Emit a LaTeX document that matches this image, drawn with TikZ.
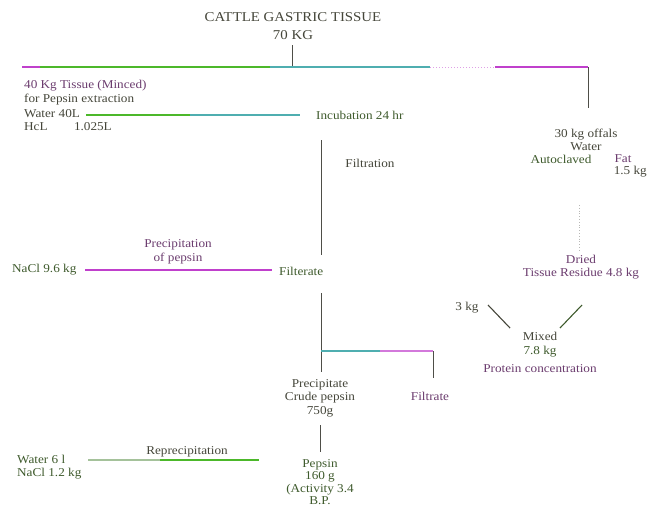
\documentclass[tikz,border=0pt]{standalone}
\usepackage{fontspec}
\setmainfont{Liberation Serif}[FakeStretch=1.1]
\definecolor{txt}{HTML}{45463A}
\definecolor{txtg}{HTML}{3E5A2C}
\definecolor{txtm}{HTML}{6B3C6E}
\definecolor{lgreen}{HTML}{4CB82A}
\definecolor{lteal}{HTML}{4FAEB0}
\definecolor{lmag}{HTML}{C040CC}
\definecolor{lgray}{HTML}{4E4E48}
\tikzset{
  lbl/.style={inner sep=0pt, text=txt, font=\fontsize{12}{13.5}\selectfont},
  lblg/.style={lbl, text=txtg},
  lblm/.style={lbl, text=txtm},
  ttl/.style={inner sep=0pt, text=txt, font=\fontsize{13.5}{15}\selectfont},
  vline/.style={draw=lgray, line width=0.8pt},
  hline/.style={line width=1.6pt},
}
\begin{document}
\begin{tikzpicture}[x=1pt,y=-1pt]
\useasboundingbox (0,0) rectangle (647,506);
% title
\node[ttl] (title) at (293,17) {CATTLE GASTRIC TISSUE};
\node[ttl] (kg70) at (293,35) {70 KG};
\coordinate (t1) at (292,45);
\coordinate (t2) at (292,67);
\draw[vline] (t1) -- (t2);
% top horizontal
\coordinate (h0) at (22,67);
\coordinate (h1) at (40,67);
\coordinate (h2) at (270,67);
\coordinate (h3) at (430,67);
\coordinate (h4) at (495,67);
\coordinate (h5) at (588,67);
\coordinate (h6) at (588,108);
\draw[hline, draw=lmag] (h0) -- (h1);
\draw[hline, draw=lgreen] (h1) -- (h2);
\draw[hline, draw=lteal] (h2) -- (h3);
\draw[line width=1pt, draw=lmag!50, dotted] (h3) -- (h4);
\draw[hline, draw=lmag] (h4) -- (h5);
\draw[vline] (h5) -- (h6);
% left block
\node[lblm, anchor=west] (tissue) at (24,86) {40 Kg Tissue (Minced)};
\node[lbl, anchor=west] (forp) at (24,100) {for Pepsin extraction};
\node[lbl, anchor=west] (water) at (24,114) {Water 40L};
\node[lbl, anchor=west] (hcl) at (24,127) {HcL\hspace{2.2em}1.025L};
\coordinate (w1) at (86,115);
\coordinate (w2) at (190,115);
\coordinate (w3) at (300,115);
\draw[hline, draw=lgreen] (w1) -- (w2);
\draw[hline, draw=lteal] (w2) -- (w3);
\node[lblg, anchor=west] (incub) at (316,115) {Incubation 24 hr};
\coordinate (v1) at (321,140);
\coordinate (v2) at (321,255);
\draw[vline] (v1) -- (v2);
\node[lbl] (filtration) at (370,163) {Filtration};
% precipitation
\node[lblm, align=center] (precip) at (178,252) {Precipitation\\of pepsin};
\node[lblg, anchor=west] (nacl) at (12,270) {NaCl 9.6 kg};
\coordinate (n1) at (85,270);
\coordinate (n2) at (272,270);
\draw[hline, draw=lmag] (n1) -- (n2);
\node[lblg, anchor=west] (filterate) at (279,271) {Filterate};
\coordinate (v3) at (321,293);
\coordinate (v4) at (321,372);
\draw[vline] (v3) -- (v4);
\coordinate (b1) at (321,351);
\coordinate (b2) at (380,351);
\coordinate (b3) at (433,351);
\coordinate (b4) at (433,378);
\draw[hline, draw=lteal] (b1) -- (b2);
\draw[hline, draw=lmag!70] (b2) -- (b3);
\draw[vline] (b3) -- (b4);
\node[lblm] (filtrate2) at (430,396) {Filtrate};
\node[lbl, align=center] (crude) at (320,398) {Precipitate\\Crude pepsin\\750g};
\coordinate (v5) at (320,425);
\coordinate (v6) at (320,452);
\draw[vline] (v5) -- (v6);
\node[lblg, align=center, anchor=north, font=\fontsize{12}{12.6}\selectfont] (pepsin) at (320,459) {Pepsin\\160 g\\(Activity 3.4\\B.P.};
% reprecipitation
\node[lbl] (reprec) at (187,452) {Reprecipitation};
\node[lblg, anchor=west, align=left] (water6) at (17,467) {Water 6 l\\NaCl 1.2 kg};
\coordinate (r1) at (88,460);
\coordinate (r2) at (160,460);
\coordinate (r3) at (259,460);
\draw[hline, draw=lgreen!45!gray!60] (r1) -- (r2);
\draw[hline, draw=lgreen] (r2) -- (r3);
% right branch
\node[lbl, align=center] (offals) at (586,140) {30 kg offals\\Water};
\node[lblg] (autoc) at (561,159) {Autoclaved};
\node[lblm] (fat) at (623,159) {Fat};
\node[lbl, anchor=east] (fatkg) at (647,172) {1.5 kg};
\coordinate (d1) at (579,205);
\coordinate (d2) at (579,250);
\draw[draw=lgray!40, dotted, line width=0.8pt] (d1) -- (d2);
\node[lblm, align=center] (dried) at (581,267) {Dried\\Tissue Residue 4.8 kg};
\node[lbl] (kg3) at (467,308) {3 kg};
\coordinate (m1) at (488,305);
\coordinate (m2) at (510,328);
\coordinate (m3) at (582,305);
\coordinate (m4) at (560,328);
\draw[draw=txt, line width=1.1pt] (m1) -- (m2);
\draw[draw=txtg, line width=1.1pt] (m3) -- (m4);
\node[lbl] (mixed) at (540,336) {Mixed};
\node[lblg] (kg78) at (540,352) {7.8 kg};
\node[lblm] (protein) at (540,369) {Protein concentration};
\end{tikzpicture}
\end{document}
